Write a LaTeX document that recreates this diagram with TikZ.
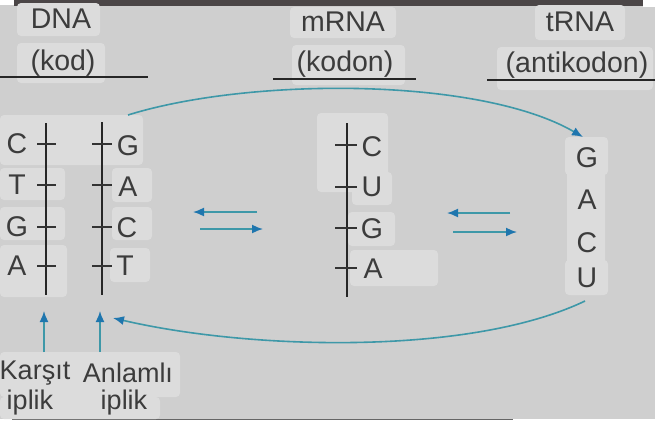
\documentclass[tikz,border=0pt]{standalone}
\usepackage{fontspec}
\setmainfont{Liberation Sans}
\usetikzlibrary{arrows.meta}
\definecolor{bg}{HTML}{CFCFCF}
\definecolor{hlc}{HTML}{DCDCDC}
\definecolor{txt}{HTML}{3C3C3C}
\definecolor{teal}{HTML}{3E98A8}
\definecolor{tipc}{HTML}{1F76AE}
\definecolor{bar}{HTML}{4B4647}
\tikzset{
  hl/.style={fill=hlc, rounded corners=4pt, draw=none},
  lbl/.style={text=txt, font=\fontsize{28.5}{31}\selectfont, inner sep=0pt, anchor=center},
  sublbl/.style={text=txt, font=\fontsize{27}{30}\selectfont, inner sep=0pt, anchor=center},
  base/.style={text=txt, font=\fontsize{28.5}{31}\selectfont, inner sep=0pt, anchor=center},
  strand/.style={draw=black!85, line width=1.8pt},
  tick/.style={draw=black!80, line width=1.4pt},
  uline/.style={draw=black!85, line width=1.6pt},
  flow/.style={draw=teal, line width=1.6pt, -{Latex[length=11pt,width=9pt,color=tipc]}}
}
\begin{document}
\begin{tikzpicture}[x=1pt,y=-1pt]
\useasboundingbox (0,0) rectangle (655,421);
\fill[bg] (0,0) rectangle (655,421);
% top bar and edges
\fill[bar] (14,0) rectangle (643,6);
\fill[white] (0,0) rectangle (14,5);
\fill[white] (643,0) rectangle (655,7);
\fill[white] (0,419) rectangle (655,421);
\draw[black!60, line width=1pt] (12,419) -- (513,419);
% highlight boxes
\draw[hl] (17,3) rectangle (100,36);
\draw[hl] (17,43) rectangle (105,83);
\draw[hl] (290,7) rectangle (396,38);
\draw[hl] (292,45) rectangle (405,85);
\draw[hl] (535,5) rectangle (625,40);
\draw[hl] (497,47) rectangle (653,90);
\draw[hl] (0,115) rectangle (143,165);
\draw[hl] (0,168) rectangle (65,200);
\draw[hl] (0,207) rectangle (65,240);
\draw[hl] (0,245) rectangle (67,297);
\draw[hl] (112,168) rectangle (152,202);
\draw[hl] (112,207) rectangle (152,240);
\draw[hl] (110,248) rectangle (150,282);
\draw[hl] (317,113) rectangle (388,192);
\draw[hl] (352,172) rectangle (392,205);
\draw[hl] (348,212) rectangle (395,246);
\draw[hl] (350,250) rectangle (438,286);
\draw[hl] (567,137) rectangle (605,295);
\draw[hl] (565,137) rectangle (608,175);
\draw[hl] (565,260) rectangle (608,295);
\draw[hl] (0,352) rectangle (180,397);
\draw[hl] (0,397) rectangle (160,419);
% headers
\node[lbl] (dna) at (61,19) {DNA};
\node[lbl] (kod) at (63,63) {(kod)};
\node[lbl] (mrna) at (343,22) {mRNA};
\node[lbl] (kodon) at (345,64) {(kodon)};
\node[lbl] (trna) at (580,22) {tRNA};
\node[lbl] (antikodon) at (577,65) {(antikodon)};
\draw[uline] (0,77) -- (148,77);
\draw[uline] (273,79) -- (416,79);
\draw[uline] (487,80) -- (655,80);
% DNA strands
\coordinate (ltop) at (46,123); \coordinate (lbot) at (46,295);
\coordinate (rtop) at (102,122); \coordinate (rbot) at (102,295);
\draw[strand] (ltop) -- (lbot);
\draw[strand] (rtop) -- (rbot);
\node[base] (l1) at (17,144) {C};
\node[base] (l2) at (17,185) {T};
\node[base] (l3) at (17,227) {G};
\node[base] (l4) at (17,266) {A};
\node[base] (r1) at (128,146) {G};
\node[base] (r2) at (128,187) {A};
\node[base] (r3) at (127,228) {C};
\node[base] (r4) at (125,266) {T};
\foreach \y in {144,185,227,266} {
  \draw[tick] (37,\y) -- (56,\y);
  \draw[tick] (92,\y) -- (112,\y);
}
% mRNA strand
\coordinate (mtop) at (347,123); \coordinate (mbot) at (347,297);
\draw[strand] (mtop) -- (mbot);
\node[base] (m1) at (372,147) {C};
\node[base] (m2) at (372,187) {U};
\node[base] (m3) at (372,229) {G};
\node[base] (m4) at (373,269) {A};
\foreach \y in {145,187,228,268} {
  \draw[tick] (335,\y) -- (357,\y);
}
% tRNA
\node[base] (t1) at (587,158) {G};
\node[base] (t2) at (587,200) {A};
\node[base] (t3) at (587,243) {C};
\node[base] (t4) at (587,278) {U};
% equilibrium arrows
\coordinate (e1a) at (257,212); \coordinate (e1b) at (193,212);
\coordinate (e2a) at (200,229); \coordinate (e2b) at (263,229);
\coordinate (e3a) at (510,213); \coordinate (e3b) at (447,213);
\coordinate (e4a) at (453,232); \coordinate (e4b) at (517,232);
\draw[flow] (e1a) -- (e1b);
\draw[flow] (e2a) -- (e2b);
\draw[flow] (e3a) -- (e3b);
\draw[flow] (e4a) -- (e4b);
% big curved arrows
\coordinate (cs) at (128,115);
\coordinate (ce) at (583,137);
\draw[flow] (cs) .. controls (250,77) and (480,77) .. (ce);
\coordinate (bs) at (585,301);
\coordinate (be) at (113,318);
\draw[flow] (bs) .. controls (470,356) and (250,350) .. (be);
% strand labels
\node[sublbl] (karsit) at (35,373) {Karşıt};
\node[sublbl] (iplik1) at (30,403) {iplik};
\node[sublbl] (anlamli) at (128,373) {Anlamlı};
\node[sublbl] (iplik2) at (124,403) {iplik};
\coordinate (ka) at (44,352); \coordinate (kb) at (44,311);
\coordinate (aa) at (100,352); \coordinate (ab) at (100,311);
\draw[flow] (ka) -- (kb);
\draw[flow] (aa) -- (ab);
\end{tikzpicture}
\end{document}
